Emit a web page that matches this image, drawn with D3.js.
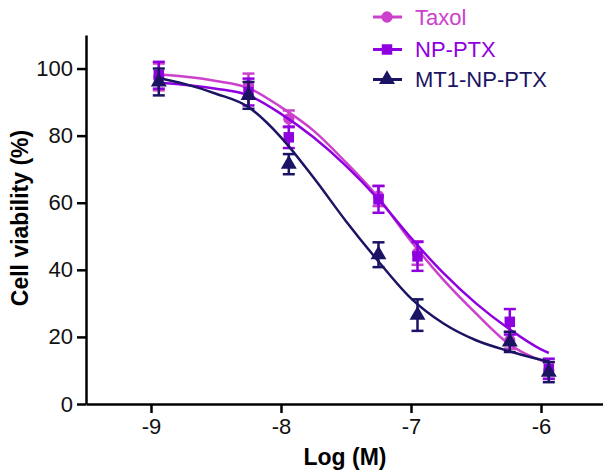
<!DOCTYPE html>
<html>
<head>
<meta charset="utf-8">
<script src="https://cdn.jsdelivr.net/npm/d3@7"></script>
<style>
  body { margin: 0; background: #fff; }
  svg { font-family: "Liberation Sans", Arial, sans-serif; }
</style>
</head>
<body>
<svg width="603" height="470"></svg>
<script>
const svg = d3.select("svg");

// data
const seriesNames = ["Taxol", "NP-PTX", "MT1-NP-PTX"];
const logDose = [-8.94, -8.25, -7.94, -7.25, -6.95, -6.24, -5.94];

const taxolMean = [97.5, 95, 85, 62, 45, 19, 10];
const taxolErr  = [4, 3.5, 2.5, 3, 3.5, 2.5, 2.5];
const npMean    = [98, 93, 79.5, 61, 44, 24.5, 10.5];
const npErr     = [4, 4, 3.2, 4, 4.3, 3.8, 3];
const mt1Mean   = [96, 92, 71.5, 44.5, 26.5, 18.5, 9.5];
const mt1Err    = [4, 4, 3, 3.7, 4.7, 3, 3];

// fitted curves
const curveX     = [-8.94, -8.75, -8.5, -8.25, -8.0, -7.75, -7.5, -7.25, -7.0, -6.75, -6.5, -6.25, -6.0, -5.94];
const taxolCurve = [98.2, 97.6, 96.3, 94.2, 88.5, 81.5, 72, 61.5, 48.5, 37, 27, 18, 13, 12.3];
const npCurve    = [95.8, 95.2, 94.0, 92.0, 86.5, 79.5, 71, 61, 49.5, 39, 30, 22.5, 16.3, 15.2];
const mt1Curve   = [97.2, 95.5, 92.5, 88.5, 79.5, 67.5, 54.5, 42.5, 31.5, 24, 19, 15.8, 13.2, 12.7];

const xTicks = [-9, -8, -7, -6];
const yTicks = [0, 20, 40, 60, 80, 100];

const colors = ["#cc40cc", "#8f00e0", "#1b1464"];
const symbols = [d3.symbolCircle, d3.symbolSquare, d3.symbolTriangle];
const symbolSizes = [100, 110, 110];

const series = [
  { name: seriesNames[0], mean: taxolMean, err: taxolErr, curve: taxolCurve },
  { name: seriesNames[1], mean: npMean, err: npErr, curve: npCurve },
  { name: seriesNames[2], mean: mt1Mean, err: mt1Err, curve: mt1Curve }
];

const x = d3.scaleLinear().domain([-9.5, -5.5]).range([86, 606]);
const y = d3.scaleLinear().domain([0, 110]).range([404, 35]);

// axes
const xAxis = svg.append("g")
  .attr("transform", `translate(0,${y(0)})`)
  .call(d3.axisBottom(x).tickValues(xTicks).tickSize(9).tickPadding(5).tickSizeOuter(0).tickFormat(d => "-" + Math.abs(d)));

const yAxis = svg.append("g")
  .attr("transform", `translate(${x(-9.5)},0)`)
  .call(d3.axisLeft(y).tickValues(yTicks).tickSize(9).tickPadding(4).tickSizeOuter(0));

[xAxis, yAxis].forEach(a => {
  a.select(".domain").attr("stroke", "#000").attr("stroke-width", 2.5);
  a.selectAll(".tick line").attr("stroke", "#000").attr("stroke-width", 2.5);
  a.selectAll(".tick text")
    .attr("fill", "#111")
    .style("font-size", "22px")
    .style("font-family", "'Liberation Sans', Arial, sans-serif");
});

// axis titles
svg.append("text")
  .attr("x", 345)
  .attr("y", 465)
  .attr("text-anchor", "middle")
  .style("font-size", "23px")
  .style("font-weight", "bold")
  .text("Log (M)");

svg.append("text")
  .attr("transform", "translate(28,218) rotate(-90)")
  .attr("text-anchor", "middle")
  .style("font-size", "23px")
  .style("font-weight", "bold")
  .text("Cell viability (%)");

// curves, error bars, markers
const line = d3.line()
  .x(d => x(d[0]))
  .y(d => y(d[1]))
  .curve(d3.curveMonotoneX);

series.forEach((s, i) => {
  const g = svg.append("g");
  const c = colors[i];

  g.append("path")
    .datum(curveX.map((v, j) => [v, s.curve[j]]))
    .attr("fill", "none")
    .attr("stroke", c)
    .attr("stroke-width", 2.5)
    .attr("d", line);

  const pts = logDose.map((v, j) => ({ x: v, m: s.mean[j], e: s.err[j] }));

  const eb = g.selectAll(".eb").data(pts).enter().append("g");
  eb.append("line")
    .attr("x1", d => x(d.x)).attr("x2", d => x(d.x))
    .attr("y1", d => y(d.m + d.e)).attr("y2", d => y(d.m - d.e))
    .attr("stroke", c).attr("stroke-width", 2.5);
  eb.append("line")
    .attr("x1", d => x(d.x) - 6).attr("x2", d => x(d.x) + 6)
    .attr("y1", d => y(d.m + d.e)).attr("y2", d => y(d.m + d.e))
    .attr("stroke", c).attr("stroke-width", 2.5);
  eb.append("line")
    .attr("x1", d => x(d.x) - 6).attr("x2", d => x(d.x) + 6)
    .attr("y1", d => y(d.m - d.e)).attr("y2", d => y(d.m - d.e))
    .attr("stroke", c).attr("stroke-width", 2.5);

  g.selectAll(".pt").data(pts).enter().append("path")
    .attr("transform", d => `translate(${x(d.x)},${y(d.m)})`)
    .attr("d", d3.symbol().type(symbols[i]).size(symbolSizes[i]))
    .attr("fill", c);
});

// legend
const legendY = [17, 49.5, 79.5];
const legend = svg.append("g");
series.forEach((s, i) => {
  const row = legend.append("g").attr("transform", `translate(0,${legendY[i]})`);
  row.append("line")
    .attr("x1", 373).attr("x2", 402)
    .attr("stroke", colors[i]).attr("stroke-width", 3);
  row.append("path")
    .attr("transform", "translate(387,0)")
    .attr("d", d3.symbol().type(symbols[i]).size(symbolSizes[i]))
    .attr("fill", colors[i]);
  row.append("text")
    .attr("x", 415)
    .attr("dy", "0.36em")
    .attr("fill", colors[i])
    .style("font-size", "22px")
    .text(s.name);
});
</script>
</body>
</html>
